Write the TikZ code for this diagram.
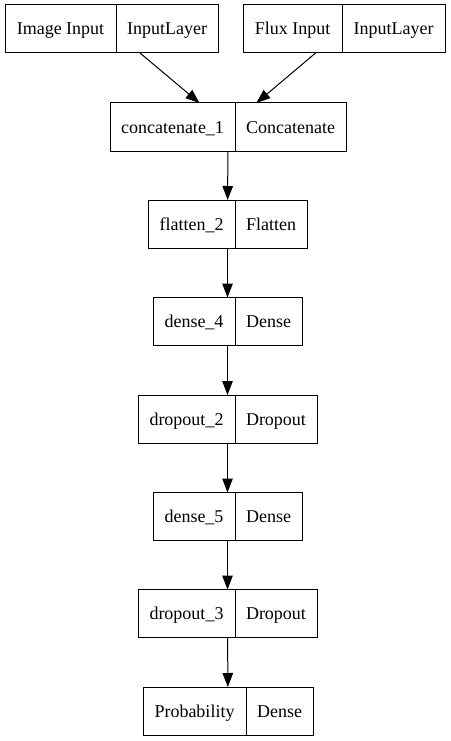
\documentclass[tikz,border=0pt]{standalone}
\usepackage{fontspec}
\setmainfont{Liberation Serif}
\usetikzlibrary{positioning}
\usetikzlibrary{fit}
\usetikzlibrary{arrows.meta}

\tikzset{
  part/.style={draw=black, line width=1pt, minimum height=48pt, inner sep=0pt, outer sep=0pt,
    text height=16pt, text depth=4pt, font=\fontsize{18}{20}\selectfont},
  record/.style={inner sep=0pt, outer sep=0pt},
  flow/.style={line width=1pt, -{Triangle[length=14pt, width=10.5pt]}}
}

\begin{document}
\begin{tikzpicture}[x=1pt, y=-1pt]
\useasboundingbox (0,0) rectangle (450,741);

\node[part, minimum width=111pt] (img-l) at (60.5,29) {Image Input};
\node[part, minimum width=102pt, right=0pt of img-l] (img-r) {InputLayer};
\node[record, fit=(img-l)(img-r)] (img) {};

\node[part, minimum width=99pt] (flux-l) at (292.5,29) {Flux Input};
\node[part, minimum width=103pt, right=0pt of flux-l] (flux-r) {InputLayer};
\node[record, fit=(flux-l)(flux-r)] (flux) {};

\node[part, minimum width=125pt] (concat-l) at (172.5,127) {concatenate\_1};
\node[part, minimum width=111pt, right=0pt of concat-l] (concat-r) {Concatenate};
\node[record, fit=(concat-l)(concat-r)] (concat) {};

\node[part, minimum width=87pt] (flatten-l) at (191.5,224) {flatten\_2};
\node[part, minimum width=72pt, right=0pt of flatten-l] (flatten-r) {Flatten};
\node[record, fit=(flatten-l)(flatten-r)] (flatten) {};

\node[part, minimum width=82pt] (dense4-l) at (194,321.5) {dense\_4};
\node[part, minimum width=67pt, right=0pt of dense4-l] (dense4-r) {Dense};
\node[record, fit=(dense4-l)(dense4-r)] (dense4) {};

\node[part, minimum width=97pt] (drop2-l) at (186.5,419) {dropout\_2};
\node[part, minimum width=82pt, right=0pt of drop2-l] (drop2-r) {Dropout};
\node[record, fit=(drop2-l)(drop2-r)] (drop2) {};

\node[part, minimum width=82pt] (dense5-l) at (194,516.5) {dense\_5};
\node[part, minimum width=67pt, right=0pt of dense5-l] (dense5-r) {Dense};
\node[record, fit=(dense5-l)(dense5-r)] (dense5) {};

\node[part, minimum width=97pt] (drop3-l) at (186.5,613.5) {dropout\_3};
\node[part, minimum width=82pt, right=0pt of drop3-l] (drop3-r) {Dropout};
\node[record, fit=(drop3-l)(drop3-r)] (drop3) {};

\node[part, minimum width=103pt] (prob-l) at (194.5,711) {Probability};
\node[part, minimum width=67pt, right=0pt of prob-l] (prob-r) {Dense};
\node[record, fit=(prob-l)(prob-r)] (prob) {};

\draw[flow] (img) -- (concat);
\draw[flow] (flux) -- (concat);
\draw[flow] (concat) -- (flatten);
\draw[flow] (flatten) -- (dense4);
\draw[flow] (dense4) -- (drop2);
\draw[flow] (drop2) -- (dense5);
\draw[flow] (dense5) -- (drop3);
\draw[flow] (drop3) -- (prob);

\end{tikzpicture}
\end{document}
